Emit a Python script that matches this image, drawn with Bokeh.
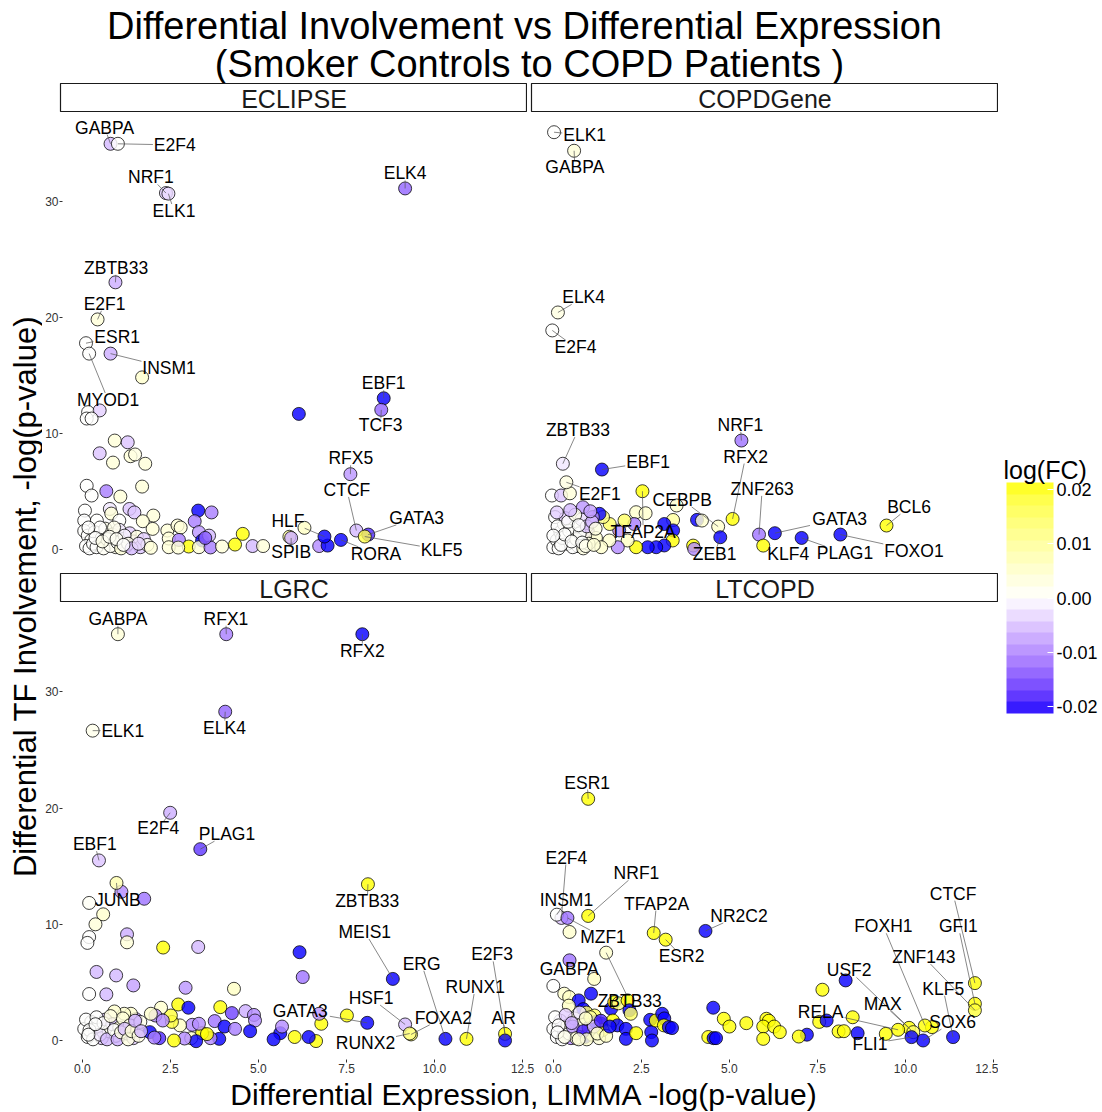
import math
from bokeh.plotting import figure
from bokeh.models import (Range1d, Label, ColorBar, LinearColorMapper, FixedTicker,
                          ColumnDataSource, PrintfTickFormatter, CustomJSTickFormatter)
from bokeh.layouts import row, column
from bokeh.embed import file_html
from bokeh.resources import INLINE
from bokeh.core.properties import value

# ------------------------------------------------------------------ data
PANELS = ["ECLIPSE", "COPDGene", "LGRC", "LTCOPD"]
X_TICKS = [0, 2.5, 5, 7.5, 10, 12.5]
Y_TICKS = [0, 10, 20, 30]
FC_TICKS = [-0.02, -0.01, 0.0, 0.01, 0.02]
TITLE_1 = "Differential Involvement vs Differential Expression"
TITLE_2 = "(Smoker Controls to COPD Patients )"
X_TITLE = "Differential Expression,  LIMMA -log(p-value)"
Y_TITLE = "Differential TF Involvement, -log(p-value)"
FC_TITLE = "log(FC)"

# unlabelled TFs: (LIMMA -log p, TF involvement -log p, logFC)
eclipse_pts = [
    (0.11, 11.85, 0), (0.44, 12.0, -0.004), (0.07, 11.3, 0), (0.21, 11.3, 0), (1.65, 14.85, 0.005),
    (0.87, 9.4, 0.004), (1.24, 9.25, -0.005), (0.44, 8.3, -0.005), (0.82, 7.5, 0.004), (1.32, 8.05, 0.004),
    (1.45, 8.2, 0.003), (1.74, 7.4, 0.004), (6.12, 11.7, -0.02), (0.07, 5.5, 0), (0.21, 4.66, 0),
    (0.63, 5.03, -0.011), (1.03, 4.57, 0.004), (1.65, 5.43, 0.004), (0.02, 3.36, 0), (0.73, 3.5, -0.002),
    (0.77, 3.1, 0.004), (1.29, 3.5, -0.005), (1.43, 3.2, -0.005), (1.97, 2.93, 0.004), (1.67, 2.44, 0.004),
    (1.95, 1.78, 0.004), (0.0, 2.5, 0), (0.36, 2.5, 0), (1.0, 2.5, 0),
    (0.0, 1.6, 0), (0.1, 1.2, 0), (0.2, 0.8, 0), (0.3, 1.5, 0.001), (0.4, 0.4, 0), (0.5, 1.0, 0),
    (0.6, 1.8, 0.002), (0.7, 0.6, 0), (0.8, 1.3, 0.003), (0.9, 0.2, 0.002), (1.0, 1.7, -0.002),
    (1.1, 0.9, 0.003), (1.2, 0.3, 0.004), (1.3, 1.4, -0.004), (1.4, 0.7, -0.006), (1.5, 1.1, 0.003),
    (1.6, 0.2, -0.005), (1.7, 0.9, -0.004), (1.8, 0.4, 0.002), (0.05, 0.3, 0), (0.15, 0.1, 0),
    (0.25, 0.5, 0), (0.35, 0.2, 0), (0.45, 1.9, 0), (0.55, 0.1, 0.001), (0.65, 0.9, 0),
    (0.75, 0.3, 0.001), (0.85, 1.9, 0.002), (0.95, 0.6, 0), (1.05, 0.1, 0.004), (1.15, 1.2, -0.001),
    (1.25, 0.5, 0.002), (1.35, 0.1, -0.006), (0.12, 1.9, 0), (0.32, 1.0, 0), (0.52, 0.7, 0.002),
    (0.72, 1.1, 0.001), (0.92, 0.9, 0.001), (1.12, 0.4, 0), (1.9, 0.15, 0.004), (1.55, 0.5, -0.003),
    (2.37, 1.64, 0.004), (2.66, 2.07, 0.004), (2.75, 1.9, 0.004), (2.41, 0.95, 0.004), (2.7, 0.83, -0.011),
    (2.98, 0.26, 0.02), (2.41, 0.2, 0.004), (2.68, 0.17, 0.004), (3.25, 3.36, -0.02), (3.63, 3.2, -0.011),
    (3.15, 2.44, -0.011), (3.27, 1.5, -0.009), (3.36, 0.78, -0.02), (3.56, 1.2, -0.006), (3.27, 0.2, 0.004),
    (3.6, 0.18, -0.011), (3.93, 0.26, 0.004), (3.45, 1.0, -0.014), (4.52, 1.35, 0.02), (4.3, 0.43, 0.02),
    (4.8, 0.3, -0.006), (5.1, 0.3, 0.004), (6.28, 1.87, 0.006), (6.7, 0.3, -0.01), (6.94, 0.34, -0.02),
    (5.85, 1.1, 0.01),
]
eclipse_lab = [
    ("GABPA", 0.75, 35.0, -0.006), ("E2F4", 0.96, 35.0, 0.0), ("NRF1", 2.33, 30.75, -0.004),
    ("ELK1", 2.40, 30.7, -0.003), ("ELK4", 9.15, 31.15, -0.013), ("ZBTB33", 0.89, 23.05, -0.007),
    ("E2F1", 0.38, 19.85, 0.004), ("ESR1", 0.05, 17.8, 0.0), ("INSM1", 0.75, 16.9, -0.007),
    ("MYOD1", 0.14, 16.9, 0.0), ("EBF1", 8.54, 13.05, -0.02), ("TCF3", 8.47, 12.05, -0.013),
    ("RFX5", 7.59, 6.5, -0.009), ("CTCF", 7.76, 1.64, -0.006), ("GATA3", 8.10, 1.29, -0.018),
    ("KLF5", 8.0, 1.12, 0.017), ("RORA", 7.32, 0.83, -0.02), ("HLF", 6.85, 1.12, -0.02),
    ("SPIB", 5.9, 1.0, -0.007),
]

copdgene_pts = [
    (-0.04, 4.66, 0), (0.22, 4.66, -0.005), (0.47, 4.85, 0.004), (2.35, 3.22, 0.005), (2.62, 3.13, 0.005),
    (3.5, 3.8, 0.005), (3.4, 2.55, 0.01), (3.15, 2.2, -0.02), (3.4, 1.65, -0.02), (3.39, 0.78, 0.02),
    (3.15, 0.35, -0.02), (2.92, 0.2, -0.02), (2.68, 0.2, -0.02), (2.35, 0.2, 0.02), (2.11, 0.78, 0.006),
    (1.83, 0.2, -0.01), (1.59, 0.78, 0.005), (1.87, 1.65, -0.01), (2.3, 2.2, -0.011), (2.02, 2.5, 0.015),
    (1.6, 2.2, 0.015), (1.41, 2.8, 0.012), (1.31, 3.08, -0.02), (1.12, 2.8, -0.01), (0.84, 3.65, -0.009),
    (0.98, 1.55, -0.008), (1.21, 1.0, 0.005), (1.36, 0.2, 0.005), (4.08, 2.56, -0.02), (4.22, 2.5, 0.005),
    (3.97, 0.34, 0.02), (4.0, 0.05, -0.01),
    (0.0, 0.2, 0), (0.1, 0.8, 0), (0.2, 1.5, 0), (0.3, 2.2, 0.001), (0.4, 0.5, 0), (0.5, 1.1, 0.001),
    (0.6, 1.9, 0.002), (0.7, 0.3, 0), (0.8, 2.6, -0.003), (0.9, 1.2, 0.003), (0.05, 2.8, 0), (0.15, 0.1, 0),
    (0.25, 1.0, 0), (0.35, 2.7, -0.004), (0.45, 1.6, 0), (0.55, 0.2, 0), (0.65, 0.9, 0.002), (0.75, 1.4, 0),
    (0.85, 0.1, 0.003), (0.95, 2.0, -0.005), (1.0, 0.5, 0.003), (0.12, 2.0, 0), (0.22, 0.4, 0),
    (0.32, 1.3, 0), (0.42, 2.4, 0), (0.52, 0.7, 0), (0.62, 3.0, 0.002), (0.72, 2.1, 0), (0.82, 0.6, 0),
    (0.92, 0.3, 0.002), (1.1, 2.4, -0.006), (1.15, 0.4, 0.004), (1.2, 1.8, 0.003), (0.0, 1.2, 0),
    (0.1, 3.2, -0.004), (0.48, 3.4, -0.006), (1.05, 3.3, -0.008),
]
copdgene_lab = [
    ("ELK1", 0.02, 36.0, 0.0), ("GABPA", 0.59, 34.4, 0.004), ("ELK4", 0.13, 20.45, 0.003),
    ("E2F4", -0.03, 18.9, 0.0), ("ZBTB33", 0.27, 7.4, -0.002), ("EBF1", 1.38, 6.9, -0.02),
    ("E2F1", 0.37, 5.8, 0.003), ("CEBPB", 4.68, 1.98, 0.005), ("TFAP2A", 2.53, 5.03, 0.02),
    ("NRF1", 5.34, 9.4, -0.012), ("RFX2", 5.09, 2.64, 0.02), ("ZNF263", 5.84, 1.29, -0.012),
    ("GATA3", 6.29, 1.41, -0.02), ("BCL6", 9.46, 2.07, 0.02), ("ZEB1", 4.74, 1.06, -0.02),
    ("KLF4", 5.96, 0.34, 0.02), ("PLAG1", 7.05, 1.0, -0.02), ("FOXO1", 8.15, 1.29, -0.02),
]

lgrc_pts = [
    (1.06, 12.8, -0.01), (1.71, 12.2, -0.012), (0.14, 11.84, 0.001), (0.54, 10.86, 0.005), (0.32, 10.0, 0.004),
    (0.14, 8.9, 0.0), (0.09, 8.4, 0.0), (1.22, 9.14, -0.007), (1.22, 8.45, 0.004), (2.25, 8.0, 0.02),
    (3.25, 8.05, -0.006), (6.14, 7.6, -0.02), (6.23, 5.46, -0.012), (7.49, 2.15, 0.02), (6.76, 1.44, 0.02),
    (6.61, -0.05, 0.02), (6.4, 0.3, -0.02), (6.0, 0.3, 0.02), (5.59, 0.63, -0.02), (5.4, 0.1, -0.02),
    (5.64, 1.2, -0.01), (6.7, 2.3, -0.009),
    (0.35, 5.9, -0.006), (0.91, 5.6, -0.006), (1.4, 4.74, -0.008), (0.14, 4.0, 0.0), (0.63, 3.97, -0.006),
    (2.89, 4.54, -0.009), (4.27, 4.45, 0.006), (2.68, 3.1, 0.02), (2.97, 2.82, -0.02), (3.88, 2.87, 0.02),
    (4.21, 2.36, -0.016), (4.6, 2.53, -0.007), (4.84, 2.2, -0.01), (4.87, 1.72, -0.01), (3.72, 1.67, -0.012),
    (4.0, 1.2, -0.02), (4.3, 1.0, -0.011), (4.73, 0.8, -0.02), (3.85, 0.14, -0.02), (3.6, 0.2, -0.01),
    (3.36, 0.63, 0.02), (3.5, 0.55, 0.02), (3.08, 1.35, -0.01), (3.27, 1.44, -0.01), (3.05, 0.2, 0.005),
    (3.19, -0.06, -0.02), (2.86, 0.17, -0.01), (2.56, 0.0, 0.02), (2.73, 1.3, 0.006), (2.5, 1.6, 0.018),
    (2.47, 2.15, 0.018), (2.19, 2.82, 0.005), (2.03, 2.15, -0.01), (2.24, 1.72, -0.01), (1.9, 2.3, 0.005),
    (1.87, 0.72, -0.02), (2.14, 0.2, -0.018), (2.0, 0.25, -0.011), (1.47, 1.84, -0.009), (1.33, 2.3, 0.005),
    (1.14, 2.3, 0.005), (0.86, 2.5, 0.005),
    (0.0, 1.0, 0), (0.1, 0.3, 0), (0.2, 1.6, 0), (0.3, 0.7, -0.003), (0.4, 1.2, 0), (0.5, 0.2, -0.004),
    (0.6, 1.8, -0.005), (0.7, 0.8, 0.002), (0.8, 1.4, -0.006), (0.9, 0.4, 0.003), (1.0, 1.1, 0.004),
    (1.1, 1.9, 0.004), (1.2, 0.6, -0.008), (1.3, 1.3, 0.003), (1.4, 0.2, -0.004), (1.5, 0.9, 0.004),
    (1.6, 1.6, 0.002), (0.05, 1.8, 0), (0.15, 0.9, 0), (0.25, 0.1, 0), (0.35, 2.0, 0), (0.45, 0.5, -0.002),
    (0.55, 1.5, 0), (0.65, 0.1, -0.006), (0.75, 2.1, 0.003), (0.85, 0.9, 0), (0.95, 0.1, -0.007),
    (1.05, 0.7, 0.003), (1.15, 1.0, -0.005), (1.25, 0.1, 0.003), (1.35, 0.8, 0.004), (1.45, 1.7, -0.007),
    (1.55, 0.4, 0.003), (1.62, 0.8, -0.006), (0.12, 0.5, 0), (0.32, 1.4, 0),
]
lgrc_lab = [
    ("GABPA", 0.96, 34.97, 0.004), ("RFX1", 4.05, 34.97, -0.011), ("RFX2", 7.93, 34.97, -0.02),
    ("ELK1", 0.24, 26.67, 0.002), ("ELK4", 4.02, 28.3, -0.013), ("E2F4", 2.45, 19.6, -0.007),
    ("EBF1", 0.42, 15.5, -0.005), ("PLAG1", 3.31, 16.47, -0.017), ("JUNB", 0.92, 13.56, 0.008),
    ("ZBTB33", 8.09, 13.45, 0.02), ("MEIS1", 8.8, 5.3, -0.02), ("HSF1", 9.15, 1.38, -0.006),
    ("FOXA2", 9.32, 0.52, 0.015), ("RUNX2", 9.28, 0.6, 0.012), ("ERG", 10.3, 0.14, -0.02),
    ("RUNX1", 10.9, 0.14, 0.02), ("E2F3", 12.0, 0.57, 0.02), ("AR", 12.0, 0.0, -0.02),
    ("GATA3", 8.07, 1.52, -0.02),
]

ltcopd_pts = [
    (0.46, 9.34, 0.005), (1.16, 5.3, 0.006), (0.0, 4.7, 0.0), (8.3, 5.17, -0.02), (7.64, 4.37, 0.02),
    (7.55, 1.6, 0.02), (7.76, 1.72, -0.02), (8.1, 0.78, 0.02), (8.25, 0.8, 0.02), (8.64, 0.63, -0.02),
    (9.44, 0.57, 0.02), (8.5, 2.0, 0.02), (10.75, 1.15, 0.02), (7.2, 0.5, -0.02), (6.97, 0.34, 0.02),
    (4.54, 2.82, -0.02), (4.84, 1.87, 0.02), (5.0, 1.2, 0.02), (5.48, 1.49, 0.02), (6.05, 1.87, 0.02),
    (6.12, 1.7, 0.02), (5.96, 1.2, 0.02), (6.27, 1.2, 0.02), (6.43, 0.72, 0.02), (5.96, 0.14, 0.02),
    (4.4, 0.3, 0.02), (4.55, 0.2, -0.02), (4.62, 0.2, -0.02),
    (0.31, 4.03, 0.005), (0.45, 3.74, 0.006), (0.72, 3.45, -0.02), (1.07, 4.03, -0.02), (0.44, 3.0, 0.006),
    (0.85, 2.7, -0.02), (0.94, 2.4, 0.015), (1.17, 2.15, 0.015), (1.36, 1.44, -0.02), (1.64, 2.73, -0.02),
    (1.73, 3.3, 0.02), (1.85, 3.2, 0.012), (2.11, 3.45, 0.02), (2.16, 2.6, -0.02), (2.2, 2.3, 0.015),
    (1.69, 1.72, 0.02), (1.82, 1.3, -0.02), (2.06, 1.0, -0.02), (2.06, 0.14, -0.02), (2.35, 0.63, 0.02),
    (2.75, 1.78, -0.02), (2.78, 0.72, -0.02), (2.8, 0.0, -0.02), (2.91, 1.72, 0.02), (3.09, 2.3, -0.02),
    (3.15, 1.9, -0.02), (3.14, 1.3, 0.02), (3.28, 1.15, -0.02), (3.37, 1.07, -0.02),
    (0.0, 1.0, 0), (0.1, 0.3, 0), (0.2, 1.7, -0.003), (0.3, 0.8, -0.005), (0.4, 1.3, 0.004),
    (0.5, 0.2, -0.01), (0.6, 1.9, 0.003), (0.7, 0.7, -0.012), (0.8, 1.4, 0.004), (0.9, 0.3, -0.02),
    (1.0, 1.1, -0.015), (1.1, 0.5, 0.006), (1.2, 1.6, -0.02), (1.3, 0.2, 0.004), (1.4, 0.9, 0.02),
    (0.05, 2.0, 0), (0.15, 1.3, 0), (0.25, 0.1, 0), (0.35, 2.2, -0.004), (0.45, 0.6, 0),
    (0.55, 1.2, -0.008), (0.65, 0.2, 0.004), (0.75, 2.4, -0.002), (0.85, 0.8, -0.018), (0.95, 0.1, 0.005),
    (1.05, 2.0, 0.01), (1.15, 1.2, -0.006), (1.25, 0.6, 0.005), (1.35, 1.7, -0.018), (0.12, 0.7, 0),
    (0.32, 0.3, 0.002), (0.52, 1.5, -0.007), (0.72, 0.1, 0.004), (0.92, 1.9, 0.005), (1.5, 0.4, 0.006),
    (1.6, 1.2, -0.02),
]
ltcopd_lab = [
    ("ESR1", 0.99, 20.8, 0.02), ("E2F4", 0.23, 10.55, -0.005), ("INSM1", 0.1, 10.83, 0.0),
    ("MZF1", 0.4, 10.55, -0.012), ("NRF1", 0.99, 10.72, 0.02), ("TFAP2A", 2.85, 9.25, 0.02),
    ("ESR2", 3.19, 8.68, 0.02), ("NR2C2", 4.32, 9.43, -0.02), ("GABPA", 0.46, 6.9, -0.012),
    ("ZBTB33", 1.5, 7.56, 0.005), ("CTCF", 11.97, 4.94, 0.02), ("GFI1", 11.97, 3.16, 0.02),
    ("ZNF143", 11.97, 2.6, 0.018), ("FOXH1", 10.55, 1.29, 0.02), ("USF2", 10.1, 1.09, 0.02),
    ("MAX", 10.22, 0.72, 0.015), ("RELA", 9.79, 0.92, 0.02), ("KLF5", 11.35, 0.29, -0.02),
    ("SOX6", 10.5, 0.0, -0.02), ("FLI1", 10.17, 0.29, -0.02),
]

# ------------------------------------------------------------------ layout (label placement, repel-like)
LABEL_POS = {
    "ECLIPSE": {"GABPA": (0.58, 36.4), "E2F4": (2.58, 34.9), "NRF1": (1.9, 32.1), "ELK1": (2.56, 29.2),
                "ELK4": (9.15, 32.45), "ZBTB33": (0.91, 24.3), "E2F1": (0.58, 21.2), "ESR1": (0.94, 18.35),
                "INSM1": (2.42, 15.65), "MYOD1": (0.68, 12.9), "EBF1": (8.54, 14.35), "TCF3": (8.45, 10.7),
                "RFX5": (7.6, 7.87), "CTCF": (7.49, 5.14), "GATA3": (9.48, 2.73), "KLF5": (10.19, -0.03),
                "RORA": (8.32, -0.37), "HLF": (5.81, 2.44), "SPIB": (5.9, -0.23)},
    "COPDGene": {"ELK1": (0.89, 35.75), "GABPA": (0.61, 32.96), "ELK4": (0.86, 21.75), "E2F4": (0.63, 17.44),
                 "ZBTB33": (0.7, 10.3), "EBF1": (2.69, 7.53), "E2F1": (1.32, 4.8), "CEBPB": (3.66, 4.28),
                 "TFAP2A": (2.55, 1.49), "NRF1": (5.31, 10.75), "RFX2": (5.46, 8.02), "ZNF263": (5.93, 5.23),
                 "GATA3": (8.13, 2.64), "BCL6": (10.1, 3.65), "ZEB1": (4.58, -0.37), "KLF4": (6.67, -0.37),
                 "PLAG1": (8.28, -0.32), "FOXO1": (10.24, -0.09)},
    "LGRC": {"GABPA": (0.96, 36.3), "RFX1": (4.04, 36.3), "RFX2": (7.93, 33.56), "ELK1": (1.1, 26.67),
             "ELK4": (4.0, 26.93), "E2F4": (2.11, 18.25), "EBF1": (0.3, 16.9), "PLAG1": (4.07, 17.76),
             "JUNB": (0.96, 12.07), "ZBTB33": (8.07, 12.0), "MEIS1": (8.0, 9.34), "ERG": (9.62, 6.6),
             "E2F3": (11.63, 7.41), "HSF1": (8.18, 3.65), "RUNX1": (11.15, 4.6), "GATA3": (6.16, 2.53),
             "FOXA2": (10.24, 1.95), "AR": (11.96, 1.95), "RUNX2": (8.02, -0.23)},
    "LTCOPD": {"ESR1": (0.96, 22.2), "E2F4": (0.37, 15.75), "NRF1": (2.36, 14.4), "INSM1": (0.37, 12.07),
               "TFAP2A": (2.93, 11.78), "NR2C2": (5.27, 10.72), "MZF1": (1.41, 8.9), "ESR2": (3.64, 7.27),
               "GABPA": (0.45, 6.18), "ZBTB33": (2.17, 3.36), "CTCF": (11.35, 12.64), "FOXH1": (9.37, 9.83),
               "GFI1": (11.5, 9.83), "ZNF143": (10.52, 7.18), "USF2": (8.4, 6.03), "KLF5": (11.07, 4.45),
               "MAX": (9.35, 3.16), "RELA": (7.59, 2.44), "SOX6": (11.34, 1.58), "FLI1": (8.99, -0.29)},
}

FONT = "Liberation Sans"
XR = (-0.62, 12.64)
YR = (-1.55, 37.7)
FRAME_W = 467
GAP = 4
LEFT_B = 18
YT_W = 42
H_TOP = 455
H_BOT = 456
STRIP_H = 29
GAP_V = 6
XAX_H = 19
TITLE_H = 83
PAGE_W, PAGE_H = 1102, 1111

# ------------------------------------------------------------------ colours (Lab interpolation like ggplot)
def _srgb_to_lab(rgb):
    def lin(c):
        c = c / 255.0
        return c / 12.92 if c <= 0.04045 else ((c + 0.055) / 1.055) ** 2.4
    r, g, b = (lin(c) for c in rgb)
    X = (0.4124 * r + 0.3576 * g + 0.1805 * b) / 0.95047
    Y = 0.2126 * r + 0.7152 * g + 0.0722 * b
    Z = (0.0193 * r + 0.1192 * g + 0.9505 * b) / 1.08883
    f = lambda t: t ** (1 / 3) if t > 216 / 24389 else (24389 / 27 * t + 16) / 116
    fx, fy, fz = f(X), f(Y), f(Z)
    return (116 * fy - 16, 500 * (fx - fy), 200 * (fy - fz))


def _lab_to_hex(L, a, b):
    fy = (L + 16) / 116
    fx = fy + a / 500
    fz = fy - b / 200
    finv = lambda t: t ** 3 if t ** 3 > 216 / 24389 else (116 * t - 16) / (24389 / 27)
    X, Y, Z = finv(fx) * 0.95047, finv(fy), finv(fz) * 1.08883
    r = 3.2406 * X - 1.5372 * Y - 0.4986 * Z
    g = -0.9689 * X + 1.8758 * Y + 0.0415 * Z
    bb = 0.0557 * X - 0.2040 * Y + 1.0570 * Z

    def gam(c):
        c = min(max(c, 0.0), 1.0)
        return 12.92 * c if c <= 0.0031308 else 1.055 * c ** (1 / 2.4) - 0.055
    return "#%02x%02x%02x" % tuple(int(round(gam(c) * 255)) for c in (r, g, bb))


def diverging(n):
    lo, mid, hi = _srgb_to_lab((0, 0, 255)), _srgb_to_lab((255, 255, 255)), _srgb_to_lab((255, 255, 0))
    out = []
    for i in range(n):
        s = 2 * (i + 0.5) / n - 1
        end, u = (lo, -s) if s < 0 else (hi, s)
        out.append(_lab_to_hex(*[mid[k] + (end[k] - mid[k]) * u for k in range(3)]))
    return out


point_mapper = LinearColorMapper(palette=diverging(256), low=-0.02, high=0.02)
bar_mapper = LinearColorMapper(palette=diverging(20), low=-0.0212, high=0.0212)

CW = {"A": .667, "B": .667, "C": .722, "D": .722, "E": .667, "F": .611, "G": .778, "H": .722, "I": .278,
      "J": .5, "K": .667, "L": .556, "M": .833, "N": .722, "O": .778, "P": .667, "Q": .778, "R": .722,
      "S": .667, "T": .611, "U": .722, "V": .667, "W": .944, "X": .667, "Y": .667, "Z": .611}
LAB_FS = 17.5


def text_w(s):
    return sum(CW.get(c, 0.556) for c in s) * LAB_FS


def base_fig(w, h, **kw):
    f = figure(width=w, height=h, output_backend="svg", toolbar_location=None, min_border=0, **kw)
    f.grid.visible = False
    f.outline_line_color = None
    f.background_fill_color = "white"
    f.border_fill_color = "white"
    return f


def style_axis(ax):
    ax.axis_line_color = None
    ax.major_tick_line_color = "#333333"
    ax.major_tick_out = 3
    ax.major_tick_in = 0
    ax.minor_tick_line_color = None
    ax.major_label_standoff = 1
    ax.major_label_text_font = FONT
    ax.major_label_text_font_size = "12px"
    ax.major_label_text_color = "#333333"


def make_panel(name, pts, labs, left_axis, frame_h, bottom_gap):
    w = (LEFT_B if left_axis else GAP) + FRAME_W
    p = base_fig(w, frame_h + bottom_gap, x_range=Range1d(*XR), y_range=Range1d(*YR),
                 x_axis_location=None, y_axis_location="left" if left_axis else None,
                 min_border_left=LEFT_B if left_axis else GAP, min_border_bottom=bottom_gap)
    if left_axis:
        ax = p.yaxis[0]
        ax.ticker = FixedTicker(ticks=Y_TICKS)
        style_axis(ax)

    all_pts = list(pts) + [(x, y, fc) for _, x, y, fc in labs]
    src = ColumnDataSource(dict(x=[q[0] for q in all_pts], y=[q[1] for q in all_pts],
                                fc=[q[2] for q in all_pts]))
    p.scatter("x", "y", source=src, size=13, fill_color={"field": "fc", "transform": point_mapper},
              fill_alpha=0.82, line_color="black", line_width=0.75)

    sx = FRAME_W / (XR[1] - XR[0])
    sy = frame_h / (YR[1] - YR[0])
    pos = LABEL_POS[name]
    seg = dict(x0=[], y0=[], x1=[], y1=[])
    lab = dict(x=[], y=[], text=[])
    for nm, x, y, fc in labs:
        tx, ty = pos[nm]
        lab["x"].append(tx)
        lab["y"].append(ty)
        lab["text"].append(nm)
        hw, hh = text_w(nm) / 2 + 1, 7.0
        dx, dy = (x - tx) * sx, (y - ty) * sy
        ex, ey = max(abs(dx) - hw, 0), max(abs(dy) - hh, 0)
        if math.hypot(ex, ey) > 5:
            t = min(hw / abs(dx) if dx else 1e9, hh / abs(dy) if dy else 1e9, 1.0)
            seg["x0"].append(tx + t * dx / sx)
            seg["y0"].append(ty + t * dy / sy)
            seg["x1"].append(x)
            seg["y1"].append(y)
    p.segment("x0", "y0", "x1", "y1", source=ColumnDataSource(seg), line_color="#555555", line_width=0.7)
    p.text("x", "y", text="text", source=ColumnDataSource(lab), text_align="center", text_baseline="middle",
           text_font=value(FONT), text_font_size="%gpx" % LAB_FS, text_color="black")
    return p


def make_strip(name, left):
    w = (LEFT_B if left else GAP) + FRAME_W
    s = base_fig(w, STRIP_H, x_range=Range1d(0, 1), y_range=Range1d(0, 1), x_axis_location=None,
                 y_axis_location=None, min_border_left=LEFT_B if left else GAP)
    s.outline_line_color = "#1a1a1a"
    s.outline_line_width = 1.2
    s.add_layout(Label(x=0.5, y=0.45, text=name, text_align="center", text_baseline="middle",
                       text_font=FONT, text_font_size="25px", text_color="#1a1a1a"))
    return s


p_tl = make_panel("ECLIPSE", eclipse_pts, eclipse_lab, True, H_TOP, GAP_V)
p_tr = make_panel("COPDGene", copdgene_pts, copdgene_lab, False, H_TOP, GAP_V)
p_bl = make_panel("LGRC", lgrc_pts, lgrc_lab, True, H_BOT, 0)
p_br = make_panel("LTCOPD", ltcopd_pts, ltcopd_lab, False, H_BOT, 0)
s_tl, s_tr = make_strip(PANELS[0], True), make_strip(PANELS[1], False)
s_bl, s_br = make_strip(PANELS[2], True), make_strip(PANELS[3], False)

# shared bottom axis spanning both columns (so tick labels are not clipped between panels)
scale = FRAME_W / (XR[1] - XR[0])
offset = (FRAME_W + GAP) / scale
xa = base_fig(LEFT_B + 2 * FRAME_W + GAP, XAX_H,
              x_range=Range1d(XR[0], XR[0] + (2 * FRAME_W + GAP) / scale),
              y_range=Range1d(0, 1), y_axis_location=None, min_border_left=LEFT_B, min_border_bottom=XAX_H - 1)
ax = xa.xaxis[0]
ax.ticker = FixedTicker(ticks=X_TICKS + [t + offset for t in X_TICKS])
ax.formatter = CustomJSTickFormatter(args=dict(off=offset), code="""
    let v = tick > off - 0.5 ? tick - off : tick;
    v = Math.round(v * 10) / 10;
    return v.toFixed(1);
""")
style_axis(ax)

grid_h = 2 * STRIP_H + H_TOP + GAP_V + H_BOT + XAX_H
grid_top = TITLE_H
grid_bot = grid_top + grid_h
leg_w = PAGE_W - YT_W - (LEFT_B + 2 * FRAME_W + GAP)

yt = base_fig(YT_W, grid_h, x_range=Range1d(0, 1), y_range=Range1d(0, 1),
              x_axis_location=None, y_axis_location=None)
yt.add_layout(Label(x=24.5, y=grid_bot - 596, x_units="screen", y_units="screen", text=Y_TITLE,
                    angle=math.pi / 2, text_align="center", text_baseline="middle",
                    text_font=FONT, text_font_size="31px", text_color="black"))

leg = base_fig(leg_w, grid_h, x_range=Range1d(0, 1), y_range=Range1d(0, 1), x_axis_location=None,
               y_axis_location=None)
cb = ColorBar(color_mapper=bar_mapper, ticker=FixedTicker(ticks=FC_TICKS),
              formatter=PrintfTickFormatter(format="%.2f"), width=47, height=231, title=None,
              major_label_text_font=FONT, major_label_text_font_size="18px", major_label_text_color="black",
              label_standoff=3, major_tick_line_color="white", major_tick_in=6, major_tick_out=0,
              minor_tick_line_color=None, bar_line_color=None, padding=0, margin=0,
              background_fill_color=None, border_line_color=None,
              location=(1006 - (PAGE_W - leg_w), grid_bot - 713))
leg.add_layout(cb, "center")
leg.add_layout(Label(x=1003 - (PAGE_W - leg_w), y=grid_bot - 469, x_units="screen", y_units="screen",
                     text=FC_TITLE, text_align="left", text_baseline="middle", text_font=FONT,
                     text_font_size="25px", text_color="black"))

tf = base_fig(PAGE_W, TITLE_H, x_range=Range1d(0, 1), y_range=Range1d(0, 1), x_axis_location=None,
              y_axis_location=None)
tf.add_layout(Label(x=524, y=TITLE_H - 25, x_units="screen", y_units="screen", text=TITLE_1,
                    text_align="center", text_baseline="middle", text_font=FONT, text_font_size="38px",
                    text_color="black"))
tf.add_layout(Label(x=529, y=TITLE_H - 63, x_units="screen", y_units="screen", text=TITLE_2,
                    text_align="center", text_baseline="middle", text_font=FONT, text_font_size="38px",
                    text_color="black"))

xt_h = PAGE_H - grid_bot
xt = base_fig(PAGE_W, xt_h, x_range=Range1d(0, 1), y_range=Range1d(0, 1), x_axis_location=None,
              y_axis_location=None)
xt.add_layout(Label(x=528, y=17.5, x_units="screen", y_units="screen", text=X_TITLE,
                    text_align="center", text_baseline="middle", text_font=FONT, text_font_size="30px",
                    text_color="black"))

panels = column(row(s_tl, s_tr), row(p_tl, p_tr), row(s_bl, s_br), row(p_bl, p_br), xa)
layout = column(tf, row(yt, panels, leg), xt)

open("out.html", "w").write(file_html(layout, INLINE))
